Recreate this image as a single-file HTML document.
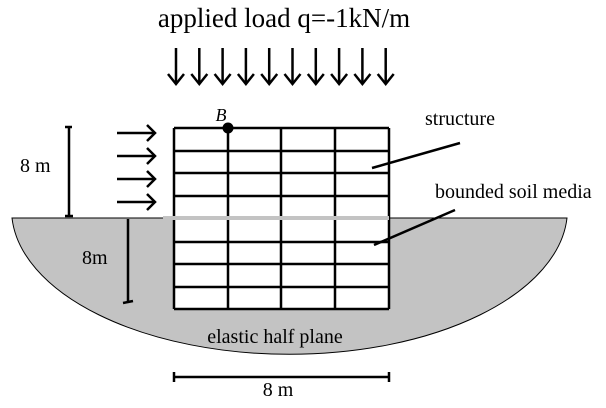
<!DOCTYPE html>
<html><head><style>body{margin:0;background:#fff}svg{display:block}</style></head><body>
<svg width="606" height="408" viewBox="0 0 606 408" xmlns="http://www.w3.org/2000/svg" font-family="Liberation Serif, serif">
<rect width="606" height="408" fill="#fff"/>
<path d="M12,218 L567,218 A278,145 0 0 1 12,218 Z" fill="#c3c3c3" stroke="#000" stroke-width="1"/>
<rect x="174" y="218" width="215" height="91" fill="#fff"/>
<text x="284" y="27" font-size="27" text-anchor="middle">applied load q=-1kN/m</text>
<g stroke="#000" stroke-width="2.5" fill="none">
<g id="d"><line x1="176" y1="48" x2="176" y2="84"/><polyline points="168,74 176,84 184,74"/></g>
<use href="#d" x="23.3"/><use href="#d" x="46.6"/><use href="#d" x="69.9"/><use href="#d" x="93.2"/><use href="#d" x="116.5"/><use href="#d" x="139.8"/><use href="#d" x="163.1"/><use href="#d" x="186.4"/><use href="#d" x="209.7"/>
<g id="r"><line x1="117" y1="133" x2="155" y2="133"/><polyline points="147,125 155,133 147,141"/></g>
<use href="#r" y="23"/><use href="#r" y="46"/><use href="#r" y="69"/>
</g>
<g stroke="#000" stroke-width="2.5">
<line x1="174" y1="128" x2="174" y2="309"/><line x1="228" y1="128" x2="228" y2="309"/><line x1="281" y1="128" x2="281" y2="309"/><line x1="335" y1="128" x2="335" y2="309"/><line x1="389" y1="128" x2="389" y2="309"/>
<line x1="174" y1="128" x2="389" y2="128"/><line x1="174" y1="151" x2="389" y2="151"/><line x1="174" y1="173" x2="389" y2="173"/><line x1="174" y1="196" x2="389" y2="196"/>
<line x1="174" y1="242" x2="389" y2="242"/><line x1="174" y1="264" x2="389" y2="264"/><line x1="174" y1="287" x2="389" y2="287"/><line x1="174" y1="309" x2="389" y2="309"/>
<line x1="69" y1="127" x2="69" y2="216"/><line x1="65" y1="127" x2="72" y2="127"/><line x1="65" y1="216" x2="73" y2="216"/>
<line x1="128" y1="219" x2="128" y2="303"/><line x1="123" y1="303" x2="133" y2="301"/>
<line x1="174" y1="377" x2="389" y2="377"/><line x1="174" y1="372" x2="174" y2="382"/><line x1="389" y1="372" x2="389" y2="382"/>
<line x1="372" y1="168" x2="460" y2="143"/><line x1="374" y1="245" x2="455" y2="210"/>
</g>
<line x1="163" y1="218" x2="389" y2="218" stroke="#c3c3c3" stroke-width="4"/>
<circle cx="228" cy="128" r="5.5" fill="#000"/>
<text x="221" y="121" font-size="18" font-style="italic" text-anchor="middle">B</text>
<g font-size="20">
<text x="20" y="172">8 m</text>
<text x="82" y="264">8m</text>
<text x="275" y="343" text-anchor="middle">elastic half plane</text>
<text x="278" y="396" text-anchor="middle">8 m</text>
<text x="425" y="125">structure</text>
<text x="435" y="198">bounded soil media</text>
</g>
</svg>
</body></html>
